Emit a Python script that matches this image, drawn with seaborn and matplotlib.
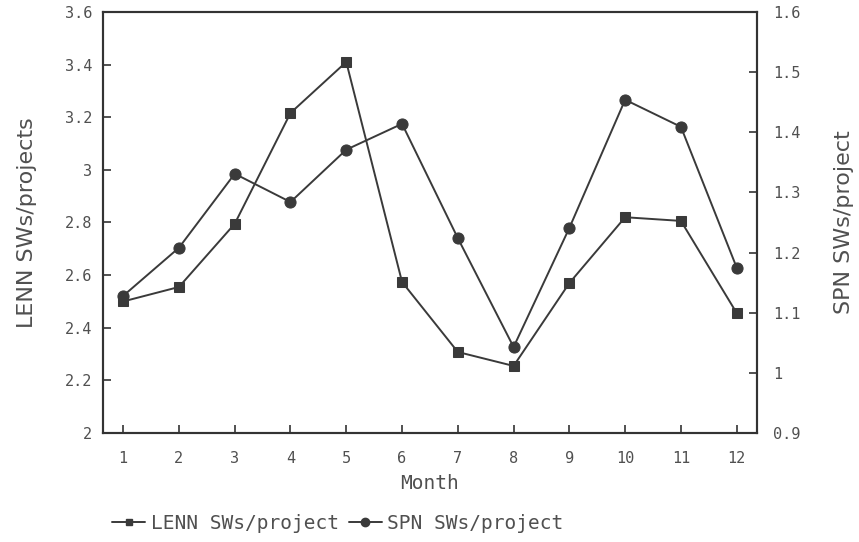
import matplotlib
matplotlib.use("Agg")
import matplotlib.pyplot as plt
import seaborn as sns
import pandas as pd
from matplotlib.lines import Line2D

months = [1, 2, 3, 4, 5, 6, 7, 8, 9, 10, 11, 12]
lenn = [2.50, 2.555, 2.795, 3.216, 3.41, 2.574, 2.308, 2.255, 2.57, 2.82, 2.806, 2.456]
spn = [1.128, 1.208, 1.331, 1.284, 1.371, 1.414, 1.224, 1.043, 1.241, 1.454, 1.409, 1.175]
left_ticks = [2, 2.2, 2.4, 2.6, 2.8, 3, 3.2, 3.4, 3.6]
left_labels = ["2", "2.2", "2.4", "2.6", "2.8", "3", "3.2", "3.4", "3.6"]
right_ticks = [0.9, 1.0, 1.1, 1.2, 1.3, 1.4, 1.5, 1.6]
right_labels = ["0.9", "1", "1.1", "1.2", "1.3", "1.4", "1.5", "1.6"]

df = pd.DataFrame({"Month": months, "LENN": lenn, "SPN": spn})

sns.set_theme(style="white")
plt.rcParams["font.family"] = ["DejaVu Sans Mono"]
txt = "#505050"
line_c = "#3a3a3a"

fig = plt.figure(figsize=(8.59, 5.42), dpi=100)
ax = fig.add_axes([0.12, 0.201, 0.761, 0.777])
ax2 = ax.twinx()

sns.lineplot(data=df, x="Month", y="LENN", ax=ax, color=line_c, marker="s",
             markersize=7, linewidth=1.4, markeredgecolor=line_c)
sns.lineplot(data=df, x="Month", y="SPN", ax=ax2, color=line_c, marker="o",
             markersize=8, linewidth=1.4, markeredgecolor=line_c)

ax.set_xlim(0.64, 12.36)
ax.set_ylim(2, 3.6)
ax2.set_ylim(0.9, 1.6)
ax.set_xticks(months)
ax.set_xticklabels([str(m) for m in months])
ax.set_yticks(left_ticks)
ax.set_yticklabels(left_labels)
ax2.set_yticks(right_ticks)
ax2.set_yticklabels(right_labels)

for a in (ax, ax2):
    for s in a.spines.values():
        s.set_color("#333333")
        s.set_linewidth(1.5)
    a.grid(False)

ax.tick_params(axis="x", direction="in", length=6, width=1.2, color="#333333",
               labelsize=11, labelcolor=txt, pad=13, bottom=True)
ax.tick_params(axis="y", direction="in", length=6, width=1.2, color="#333333",
               labelsize=11, labelcolor=txt, pad=8, left=True)
ax2.tick_params(axis="y", direction="in", length=6, width=1.2, color="#333333",
                labelsize=11, labelcolor=txt, pad=12, right=True)

ax.set_xlabel("Month", fontsize=14, color=txt, labelpad=6)
ax.set_ylabel("LENN SWs/projects", fontsize=16, color=txt, labelpad=20,
              family=["DejaVu Sans"])
ax2.set_ylabel("SPN SWs/project", fontsize=16, color=txt, labelpad=24,
               family=["DejaVu Sans"])

handles = [
    Line2D([], [], color=line_c, marker="s", markersize=5, linewidth=1.4),
    Line2D([], [], color=line_c, marker="o", markersize=6, linewidth=1.4),
]
leg = fig.legend(handles, ["LENN SWs/project", "SPN SWs/project"],
                 loc="center left", bbox_to_anchor=(0.11, 0.035), ncol=2,
                 frameon=False, fontsize=14, handlelength=1.7,
                 handletextpad=0.3, columnspacing=0.5)
for t in leg.get_texts():
    t.set_color(txt)

fig.savefig("out.png", dpi=100)
